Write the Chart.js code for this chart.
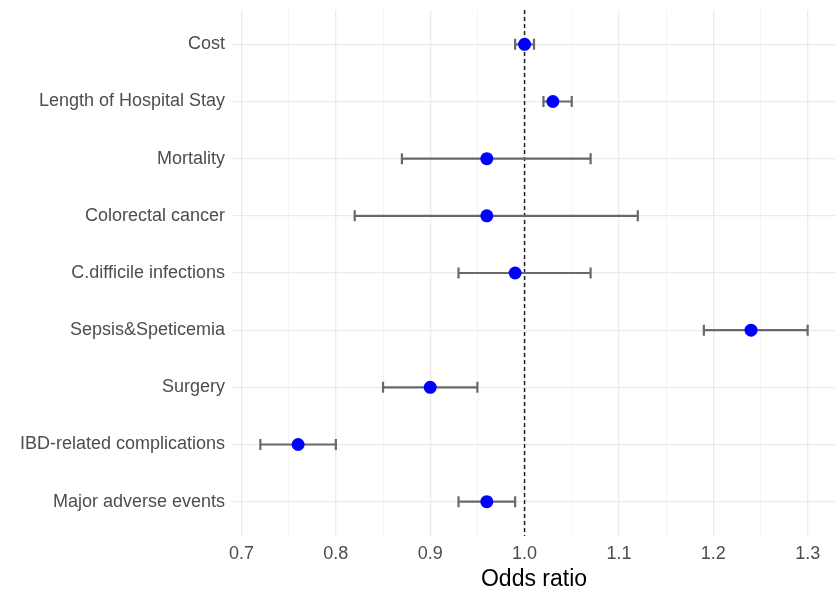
<!DOCTYPE html>
<html>
<head>
<meta charset="utf-8">
<script src="https://cdn.jsdelivr.net/npm/chart.js@4/dist/chart.umd.min.js"></script>
<style>
html,body{margin:0;padding:0;background:#fff;}
canvas{display:block;}
</style>
</head>
<body>
<canvas id="c" width="838" height="591"></canvas>
<script>
const categories = ["Cost","Length of Hospital Stay","Mortality","Colorectal cancer","C.difficile infections","Sepsis&Speticemia","Surgery","IBD-related complications","Major adverse events"];
const oddsRatio = [1.00, 1.03, 0.96, 0.96, 0.99, 1.24, 0.90, 0.76, 0.96];
const lowerCI   = [0.99, 1.02, 0.87, 0.82, 0.93, 1.19, 0.85, 0.72, 0.93];
const upperCI   = [1.01, 1.05, 1.07, 1.12, 1.07, 1.30, 0.95, 0.80, 0.99];
const xTicks = [0.7, 0.75, 0.8, 0.85, 0.9, 0.95, 1.0, 1.05, 1.1, 1.15, 1.2, 1.25, 1.3];
const xMajor = [0.7, 0.8, 0.9, 1.0, 1.1, 1.2, 1.3];
const refLine = 1.0;

Chart.defaults.font.family = "'Liberation Sans', Arial, sans-serif";

const isMajor = v => xMajor.some(m => Math.abs(m - v) < 1e-6);

const errorBars = {
  id: 'errorBars',
  beforeDatasetsDraw(chart) {
    const {ctx, scales:{x, y}, chartArea} = chart;
    ctx.save();
    const rx = x.getPixelForValue(refLine);
    ctx.strokeStyle = '#222';
    ctx.lineWidth = 1.5;
    ctx.setLineDash([4, 3]);
    ctx.beginPath();
    ctx.moveTo(rx, chartArea.top);
    ctx.lineTo(rx, chartArea.bottom);
    ctx.stroke();
    ctx.setLineDash([]);
    ctx.strokeStyle = '#696969';
    ctx.lineWidth = 2.2;
    const cap = 5.5;
    categories.forEach((c, i) => {
      const yy = y.getPixelForValue(i);
      const xl = x.getPixelForValue(lowerCI[i]);
      const xh = x.getPixelForValue(upperCI[i]);
      ctx.beginPath();
      ctx.moveTo(xl, yy); ctx.lineTo(xh, yy);
      ctx.moveTo(xl, yy - cap); ctx.lineTo(xl, yy + cap);
      ctx.moveTo(xh, yy - cap); ctx.lineTo(xh, yy + cap);
      ctx.stroke();
    });
    ctx.restore();
  }
};

new Chart(document.getElementById('c'), {
  type: 'scatter',
  data: {
    datasets: [{
      data: categories.map((c, i) => ({x: oddsRatio[i], y: i})),
      backgroundColor: '#0000ff',
      borderWidth: 0,
      pointRadius: 6.5,
      pointHoverRadius: 6.5
    }]
  },
  options: {
    responsive: false,
    animation: false,
    events: [],
    layout: {autoPadding: false, padding: {left: 0, right: 3, top: 10, bottom: 0}},
    plugins: {legend: {display: false}, tooltip: {enabled: false}},
    scales: {
      x: {
        type: 'linear',
        min: 0.691, max: 1.329,
        afterBuildTicks: s => { s.ticks = xTicks.map(v => ({value: v})); },
        afterFit: s => { s.height = 55; s.paddingLeft = 0; s.paddingRight = 0; },
        border: {display: false},
        grid: {
          drawTicks: false,
          color: ctx => isMajor(ctx.tick.value) ? '#ebebeb' : '#f2f2f2',
          lineWidth: ctx => isMajor(ctx.tick.value) ? 1.3 : 0.8
        },
        ticks: {
          autoSkip: false, maxRotation: 0,
          padding: 7,
          color: '#4d4d4d',
          font: {size: 18},
          callback: v => isMajor(v) ? v.toFixed(1) : ''
        },
        title: {
          display: true, text: 'Odds ratio',
          color: '#000', font: {size: 23},
          padding: {top: 2, bottom: -2}
        }
      },
      y: {
        type: 'linear',
        reverse: true,
        min: -0.6, max: 8.6,
        afterBuildTicks: s => { s.ticks = categories.map((c, i) => ({value: i})); },
        afterFit: s => { s.width = 233; s.paddingTop = 0; s.paddingBottom = 0; },
        border: {display: false},
        grid: {drawTicks: false, color: '#ebebeb', lineWidth: 1.3},
        ticks: {
          autoSkip: false,
          padding: 8,
          color: '#4d4d4d',
          font: {size: 18},
          callback: v => categories[v]
        }
      }
    }
  },
  plugins: [errorBars]
});
</script>
</body>
</html>
